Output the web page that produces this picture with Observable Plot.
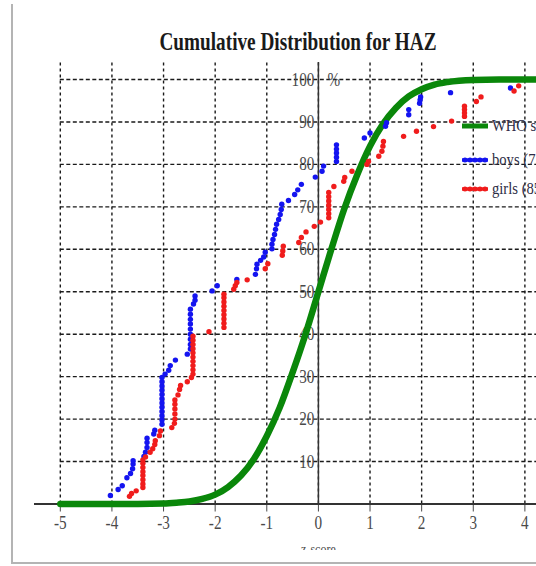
<!DOCTYPE html>
<html>
<head>
<meta charset="utf-8">
<script src="https://cdn.jsdelivr.net/npm/d3@7"></script>
<script src="https://cdn.jsdelivr.net/npm/@observablehq/plot@0.6"></script>
<style>
  html, body { margin: 0; padding: 0; background: #fff; }
  #wrap { position: relative; width: 536px; height: 566px; overflow: hidden; background: #fff; font-family: "Liberation Serif", serif; }
  #title { position: absolute; left: 0; top: 0; width: 536px; height: 58px; }
  #title span { position: absolute; left: 298px; top: 28px; white-space: nowrap; font-weight: bold; font-size: 25px; color: #1a1a1a; transform: translateX(-50%) scaleX(0.77); transform-origin: center; }
  #chart { position: absolute; left: 0; top: 58px; width: 536px; height: 492px; overflow: hidden; }
  .leg { position: absolute; left: 462px; height: 20px; }
  .leg svg { position: absolute; left: 0; top: 0; }
  .leg span { position: absolute; left: 30px; top: 0; line-height: 20px; font-size: 17px; color: #2c2c44; white-space: nowrap; transform: scaleX(0.86); transform-origin: left center; }
  #bl { position: absolute; left: 11px; top: 4px; width: 2px; height: 560px; background: #b4b4b4; }
  #bb { position: absolute; left: 11px; top: 562px; width: 530px; height: 2px; background: #b4b4b4; }
</style>
</head>
<body>
<div id="wrap">
  <div id="title"><span>Cumulative Distribution for HAZ</span></div>
  <div id="chart"></div>
  <div id="legend"></div>
  <div id="bl"></div>
  <div id="bb"></div>
</div>
<script>
// ---- data ----
const xTicks = [-5, -4, -3, -2, -1, 0, 1, 2, 3, 4];
const xTickLabels = ["-5", "-4", "-3", "-2", "-1", "0", "1", "2", "3", "4"];
const yTicks = [10, 20, 30, 40, 50, 60, 70, 80, 90, 100];
const yTickLabels = ["10", "20", "30", "40", "50", "60", "70", "80", "90", "100"];
const seriesNames = ["WHO standard", "boys (73)", "girls (85)"];
const seriesColors = ["#0a870a", "#1414f0", "#f01c1c"];

// WHO standard cumulative curve (z-score, %)
const whoZ = [-5, -4, -3.5, -3, -2.75, -2.5, -2.25, -2, -1.75, -1.5, -1.25, -1, -0.75, -0.5, -0.25, 0, 0.25, 0.5, 0.75, 1, 1.25, 1.5, 1.75, 2, 2.25, 2.5, 3, 3.5, 4.5];
const whoP = [0, 0, 0, 0.1, 0.3, 0.6, 1.2, 2.2, 4, 6.7, 10.6, 16, 22.7, 31, 40, 50, 60, 69.5, 77.5, 84.3, 89.5, 93.3, 96, 97.7, 98.8, 99.4, 99.9, 100, 100];

// boys: z-score and cumulative %
const boysZ = [-4.03, -3.88, -3.80, -3.71, -3.64, -3.60, -3.59, -3.59, -3.38, -3.35, -3.32, -3.32, -3.32, -3.19, -3.17, -3.03,
  -3.03, -3.03, -3.03, -3.03, -3.03, -3.03, -3.03, -3.03, -3.03, -3.03, -3.03,
  -2.97, -2.90, -2.87, -2.77, -2.54,
  -2.48, -2.48, -2.48, -2.48, -2.48, -2.48, -2.48, -2.48, -2.48, -2.42, -2.39, -2.39,
  -2.06, -1.96, -1.58, -1.22, -1.20, -1.19, -1.12, -1.06, -1.03, -0.90, -0.90, -0.88, -0.85, -0.83, -0.81, -0.77, -0.74, -0.72, -0.71,
  -0.58, -0.46, -0.40, -0.33, -0.06, 0.07, 0.10,
  0.35, 0.35, 0.35, 0.35, 0.35,
  0.89, 1.0, 1.30, 1.32, 1.75, 1.75, 1.96, 1.97, 1.98, 2.56, 3.72];
const boysP = [2.0, 3.4, 4.3, 6.2, 7.2, 8.3, 9.4, 10.2, 11.2, 12.2, 13.3, 14.5, 15.5, 16.5, 17.4, 18.8,
  19.8, 20.8, 21.8, 22.8, 23.8, 24.8, 25.8, 26.8, 27.8, 28.8, 29.8,
  30.6, 31.5, 32.6, 33.9, 35.3,
  36.5, 37.6, 38.8, 40.0, 41.2, 42.4, 43.5, 44.7, 45.9, 47.1, 48.0, 49.0,
  50.2, 51.4, 52.9, 54.1, 55.4, 56.5, 57.4, 58.2, 59.3, 60.1, 61.2, 62.3, 63.5, 64.7, 65.9, 67.0, 68.2, 69.4, 70.6,
  71.5, 72.9, 74.0, 75.3, 77.0, 78.4, 79.6,
  80.7, 81.7, 82.7, 83.6, 84.6,
  86.2, 87.4, 89.0, 89.8, 91.7, 92.9, 94.4, 95.2, 95.9, 96.9, 98.0];

// girls: z-score and cumulative %
const girlsZ = [-3.66, -3.62, -3.53,
  -3.40, -3.40, -3.40, -3.40, -3.40, -3.40, -3.40, -3.40,
  -3.35, -3.26, -3.21, -3.17, -3.16, -3.08, -3.06, -2.84, -2.79,
  -2.78, -2.78, -2.78, -2.78, -2.78,
  -2.72, -2.69, -2.67, -2.54, -2.46,
  -2.43, -2.43, -2.43, -2.43, -2.43, -2.43, -2.43, -2.43, -2.43, -2.43,
  -2.12,
  -1.83, -1.83, -1.83, -1.83, -1.83, -1.83, -1.83, -1.83, -1.83,
  -1.64, -1.61, -1.58, -1.38, -1.03, -0.98, -0.70, -0.69, -0.68, -0.38, -0.33, -0.24, -0.08, 0.04, 0.20,
  0.20, 0.20, 0.20, 0.20, 0.20, 0.20,
  0.30, 0.49, 0.51, 0.65, 0.94, 0.97, 1.17, 1.23, 1.25, 1.26, 1.65, 1.90, 2.23, 2.58,
  2.83, 2.83, 2.83, 2.83,
  3.06, 3.15, 3.79, 3.88];
const girlsP = [1.8, 2.5, 3.1,
  3.9, 4.7, 5.7, 6.7, 7.6, 8.6, 9.6, 10.4,
  11.1, 12.2, 13.0, 14.0, 14.9, 16.1, 17.2, 18.0, 19.0,
  20.0, 21.2, 22.4, 23.5, 24.5,
  25.7, 27.0, 27.9, 28.8, 29.8,
  30.6, 31.6, 32.6, 33.6, 34.6, 35.6, 36.6, 37.6, 38.6, 39.5,
  40.6,
  41.6, 42.6, 43.6, 44.6, 45.6, 46.6, 47.6, 48.6, 49.4,
  50.6, 51.4, 52.2, 52.8, 55.4, 56.6, 58.6, 59.6, 60.7, 61.6, 62.8, 64.1, 65.4, 66.4, 67.4,
  68.4, 69.4, 70.4, 71.4, 72.4, 73.4,
  74.8, 76.0, 76.9, 78.4, 80.0, 80.7, 81.9, 83.1, 84.3, 85.4, 86.6, 87.8, 88.9, 90.2,
  91.3, 92.1, 92.9, 93.7,
  94.8, 95.9, 97.3, 98.5];

// ---- build tables ----
const who = whoZ.map((z, i) => ({z, p: whoP[i]}));
const boys = boysZ.map((z, i) => ({z, p: boysP[i]}));
const girls = girlsZ.map((z, i) => ({z, p: girlsP[i]}));
const xMin = -5.5, xMax = 4.225, yMax = 104;

const chart = Plot.plot({
  width: 536,
  height: 492,
  marginTop: 4,
  marginBottom: 46.5,
  marginLeft: 34,
  marginRight: 0,
  style: {fontFamily: "Liberation Serif", fontSize: "19px", color: "#4a4a4a", background: "transparent", overflow: "hidden"},
  x: {domain: [xMin, xMax], ticks: xTicks, tickSize: 8, tickPadding: 3, tickFormat: d => xTickLabels[xTicks.indexOf(d)], label: null},
  y: {domain: [0, yMax], axis: null},
  marks: [
    Plot.ruleX(xTicks, {y1: 0, y2: yMax, stroke: "#1a1a1a", strokeWidth: 1.4, strokeDasharray: "3,3"}),
    Plot.ruleY(yTicks, {x1: xTicks[0], x2: xMax, stroke: "#1a1a1a", strokeWidth: 1.4, strokeDasharray: "4,2.5"}),
    Plot.ruleY([0], {x1: xMin, x2: xMax, stroke: "#333", strokeWidth: 2}),
    Plot.ruleX([0], {y1: 0, y2: yMax, stroke: "#333", strokeWidth: 1.5}),
    Plot.text(yTicks, {x: 0, y: d => d, text: (d, i) => yTickLabels[i], textAnchor: "end", dx: -4, fill: "#4a4a4a"}),
    Plot.text(["%"], {x: 0, y: yTicks[yTicks.length - 1], text: d => d, textAnchor: "start", dx: 9, fill: "#4a4a4a"}),
    Plot.text(["z-score"], {x: 0, frameAnchor: "bottom", text: d => d, lineAnchor: "top", dy: 39, fontSize: 15, fill: "#4a4a4a"}),
    Plot.line(who, {x: "z", y: "p", stroke: seriesColors[0], strokeWidth: 6.5, curve: "monotone-x"}),
    Plot.dot(boys, {x: "z", y: "p", r: 2.7, fill: seriesColors[1]}),
    Plot.dot(girls, {x: "z", y: "p", r: 2.7, fill: seriesColors[2]})
  ]
});
document.getElementById("chart").appendChild(chart);

// narrow the serif glyphs like the reference
chart.querySelectorAll("text").forEach(t => {
  const len = t.getComputedTextLength();
  if (len > 0) {
    t.setAttribute("textLength", (len * 0.8).toFixed(2));
    t.setAttribute("lengthAdjust", "spacingAndGlyphs");
  }
});

// legend
const legendTops = [116, 150, 179];
const legend = document.getElementById("legend");
seriesNames.forEach((name, i) => {
  const d = document.createElement("div");
  d.className = "leg";
  d.style.top = legendTops[i] + "px";
  let sw = `<svg width="28" height="20">`;
  if (i === 0) {
    sw += `<line x1="0" x2="26" y1="10" y2="10" stroke="${seriesColors[0]}" stroke-width="5"/>`;
  } else {
    sw += `<line x1="0" x2="26" y1="10" y2="10" stroke="${seriesColors[i]}" stroke-width="3.5"/>`;
    for (let k = 0; k < 5; k++) sw += `<circle cx="${3 + k * 5}" cy="10" r="2.5" fill="${seriesColors[i]}"/>`;
  }
  sw += `</svg>`;
  d.innerHTML = sw + `<span>${name}</span>`;
  legend.appendChild(d);
});
</script>
</body>
</html>
